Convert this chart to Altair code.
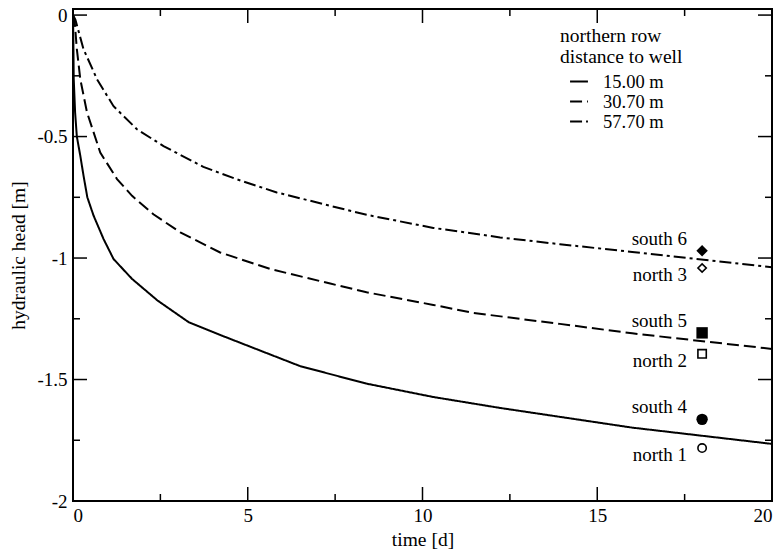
import altair as alt
import pandas as pd

# ---- curve data (time [d], hydraulic head [m]) ----
t_15 = [0, 0.01, 0.02, 0.06, 0.11, 0.21, 0.30, 0.41, 0.59, 0.875, 1.16, 1.69, 2.42,
        3.31, 4.36, 6.5, 8.4, 10.31, 12.22, 16, 20]
h_15 = [0, -0.10, -0.26, -0.40, -0.50, -0.58, -0.66, -0.75, -0.826, -0.922, -1.004,
        -1.086, -1.175, -1.264, -1.325, -1.445, -1.517, -1.572, -1.617, -1.698, -1.765]

t_30 = [0, 0.05, 0.11, 0.21, 0.40, 0.78, 1.26, 1.69, 2.30, 3.07, 4.21, 5.64, 7.36,
        8.4, 10.31, 11.46, 13.93, 16, 20]
h_30 = [0, -0.03, -0.14, -0.265, -0.40, -0.566, -0.675, -0.744, -0.82, -0.894, -0.977,
        -1.045, -1.105, -1.141, -1.193, -1.226, -1.271, -1.31, -1.374]

t_57 = [0, 0.07, 0.30, 0.69, 1.16, 1.83, 2.59, 3.73, 4.69, 5.83, 7.36, 8.4, 10.31,
        12.22, 13.93, 16, 20]
h_57 = [0, -0.02, -0.14, -0.265, -0.375, -0.47, -0.539, -0.625, -0.676, -0.73, -0.785,
        -0.822, -0.876, -0.915, -0.943, -0.975, -1.038]

series_names = ["15.00 m", "30.70 m", "57.70 m"]

# ---- measured points ----
south_names = ["south 6", "south 5", "south 4"]
south_t = [18, 18, 18]
south_h = [-0.970, -1.308, -1.664]
south_shapes = ["diamond", "square", "circle"]

north_names = ["north 3", "north 2", "north 1"]
north_t = [18, 18, 18]
north_h = [-1.041, -1.394, -1.782]
north_shapes = ["diamond", "square", "circle"]

# ---- axis ticks ----
x_major = [0, 5, 10, 15, 20]
x_minor = [2.5, 7.5, 12.5, 17.5]
y_major = [0, -0.5, -1, -1.5, -2]
y_minor = [-0.25, -0.75, -1.25, -1.75]

W, H = 699, 492
FONT = "Liberation Serif"

curves = pd.concat([
    pd.DataFrame({"t": t_15, "h": h_15, "series": series_names[0]}),
    pd.DataFrame({"t": t_30, "h": h_30, "series": series_names[1]}),
    pd.DataFrame({"t": t_57, "h": h_57, "series": series_names[2]}),
])
south = pd.DataFrame({"t": south_t, "h": south_h, "name": south_names, "shape": south_shapes})
north = pd.DataFrame({"t": north_t, "h": north_h, "name": north_names, "shape": north_shapes})

xs = alt.Scale(domain=[0, 20], nice=False, zero=False)
ys = alt.Scale(domain=[-2, 0.025], nice=False, zero=False)

xaxis = alt.Axis(values=x_major, title="time [d]", labelFontSize=19, titleFontSize=19.5,
                 labelPadding=5, titleX=W / 2, titleY=38, titleBaseline="middle",
                 titleAlign="center", titleFontWeight="normal", labelFont=FONT, titleFont=FONT)
yaxis = alt.Axis(values=y_major, title="hydraulic head [m]", labelFontSize=19, titleFontSize=19.5,
                 labelPadding=6, labelExpr="toString(datum.value)", titleX=-55, titleY=H / 2,
                 titleAngle=-90, titleBaseline="middle", titleAlign="center",
                 titleFontWeight="normal", labelFont=FONT, titleFont=FONT)

lines = alt.Chart(curves).mark_line(color="black", strokeWidth=2).encode(
    x=alt.X("t:Q", scale=xs, axis=xaxis),
    y=alt.Y("h:Q", scale=ys, axis=yaxis),
    strokeDash=alt.StrokeDash(
        "series:N",
        scale=alt.Scale(domain=series_names, range=[[1, 0], [12, 5], [12, 4, 3, 4]]),
        legend=alt.Legend(
            title=["northern row", "distance to well"], orient="none",
            legendX=487, legendY=18, titleFontSize=19.5, titleFont=FONT,
            titleFontWeight="normal", titleLineHeight=21, titlePadding=4,
            labelFontSize=18.5, labelFont=FONT, symbolType="stroke", symbolSize=320,
            symbolStrokeColor="black", symbolStrokeWidth=2, symbolOffset=9,
            labelOffset=14, rowPadding=0, padding=0,
        ),
    ),
    order="t:Q",
)

south_pts = alt.Chart(south).mark_point(filled=True, color="black", size=130, opacity=1).encode(
    x=alt.X("t:Q", scale=xs), y=alt.Y("h:Q", scale=ys),
    shape=alt.Shape("shape:N", scale=None),
)
north_pts = alt.Chart(north).mark_point(filled=False, color="black", size=70, strokeWidth=1.6,
                                        opacity=1).encode(
    x=alt.X("t:Q", scale=xs), y=alt.Y("h:Q", scale=ys),
    shape=alt.Shape("shape:N", scale=None),
)
south_txt = alt.Chart(south).mark_text(align="right", baseline="middle", dx=-15, dy=-12,
                                       fontSize=19, font=FONT, color="black").encode(
    x=alt.X("t:Q", scale=xs), y=alt.Y("h:Q", scale=ys), text="name:N")
north_txt = alt.Chart(north).mark_text(align="right", baseline="middle", dx=-15, dy=7,
                                       fontSize=19, font=FONT, color="black").encode(
    x=alt.X("t:Q", scale=xs), y=alt.Y("h:Q", scale=ys), text="name:N")


def xticks(vals, length, top):
    df = pd.DataFrame({"t": vals})
    if top:
        yy, yy2 = 0, length
    else:
        yy, yy2 = H, H - length
    return alt.Chart(df).mark_rule(color="black", strokeWidth=1.5).encode(
        x=alt.X("t:Q", scale=xs), y=alt.value(yy), y2=alt.value(yy2))


def yticks(vals, length, right):
    df = pd.DataFrame({"h": vals})
    if right:
        xx, xx2 = W, W - length
    else:
        xx, xx2 = 0, length
    return alt.Chart(df).mark_rule(color="black", strokeWidth=1.5).encode(
        y=alt.Y("h:Q", scale=ys), x=alt.value(xx), x2=alt.value(xx2))


tick_layers = [
    xticks(x_major, 14, False), xticks(x_minor, 7, False),
    xticks(x_major, 14, True), xticks(x_minor, 7, True),
    yticks(y_major, 14, False), yticks(y_minor, 7, False),
    yticks(y_major, 14, True), yticks(y_minor, 7, True),
]

chart = alt.layer(lines, *tick_layers, south_pts, north_pts, south_txt, north_txt).properties(
    width=W, height=H,
    autosize=alt.AutoSizeParams(type="none"),
    padding={"left": 65, "top": 1, "right": 4, "bottom": 48},
).configure(font=FONT).configure_axis(
    grid=False, domain=False, ticks=False, tickSize=0, labelColor="black", titleColor="black"
).configure_view(stroke="black", strokeWidth=2).configure_legend(
    titleColor="black", labelColor="black"
)

chart.save("out.html", embed_options={"renderer": "svg", "actions": False})
